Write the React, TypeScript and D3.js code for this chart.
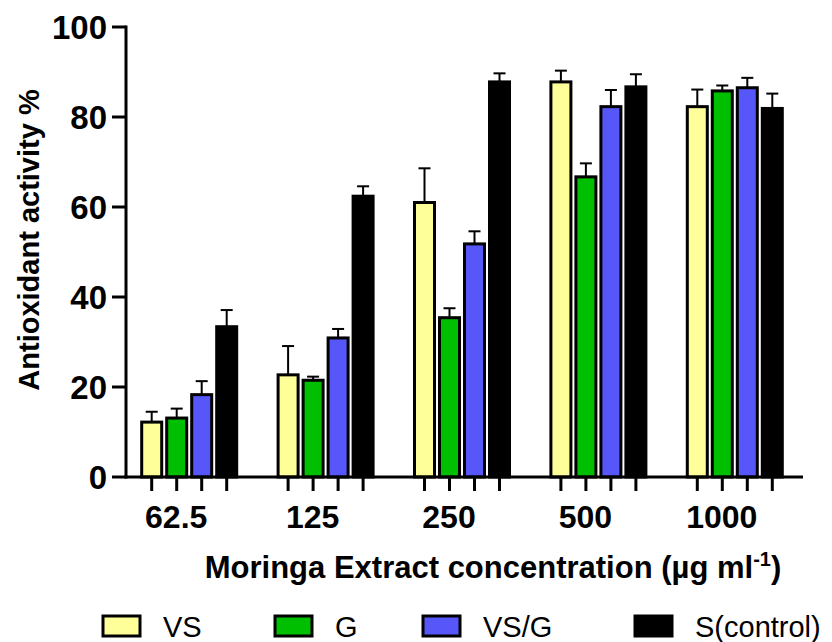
import React from "react";
import * as d3 from "d3";

const categories = ["62.5", "125", "250", "500", "1000"];
const seriesNames = ["VS", "G", "VS/G", "S(control)"];
const seriesColors = ["#FFFF99", "#00BF00", "#5757F9", "#000000"];
const vsValues = [12.2, 22.7, 61.0, 87.8, 82.3];
const vsErr = [2.3, 6.4, 7.6, 2.5, 3.8];
const gValues = [13.1, 21.5, 35.4, 66.7, 85.8];
const gErr = [2.1, 0.8, 2.1, 3.0, 1.2];
const vsgValues = [18.3, 30.9, 51.8, 82.3, 86.5];
const vsgErr = [3.0, 2.0, 2.8, 3.7, 2.2];
const sValues = [33.4, 62.4, 87.8, 86.7, 81.9];
const sErr = [3.7, 2.2, 1.9, 2.8, 3.3];
const yTicks = [0, 20, 40, 60, 80, 100];

const allValues = [vsValues, gValues, vsgValues, sValues];
const allErr = [vsErr, gErr, vsgErr, sErr];

const FONT = "'Liberation Sans', Arial, Helvetica, sans-serif";

export default function App() {
  const W = 832;
  const H = 642;
  const axisX = 126;
  const axisRight = 803;
  const y = d3.scaleLinear().domain([0, 100]).range([477, 27]);
  const x0 = d3.scaleBand<string>().domain(categories).range([121, 803]).paddingInner(0).paddingOuter(0);
  const x1 = d3.scaleBand<string>().domain(seriesNames).range([-50, 50]);
  const barW = 20;
  const capHalf = 6;
  const legendX = [103, 275, 423, 635];

  return (
    <svg width={W} height={H} style={{ position: "absolute", left: 0, top: 0, background: "#fff" }}>
      {/* bars */}
      {categories.map((c, ci) => {
        const gc = (x0(c) as number) + x0.bandwidth() / 2;
        return (
          <g key={c}>
            {seriesNames.map((s, si) => {
              const cx = gc + (x1(s) as number) + x1.bandwidth() / 2;
              const v = allValues[si][ci];
              const e = allErr[si][ci];
              const top = y(v);
              const et = y(v + e);
              return (
                <g key={s}>
                  <line x1={cx} x2={cx} y1={top} y2={et} stroke="#000" strokeWidth={2} />
                  <line x1={cx - capHalf} x2={cx + capHalf} y1={et} y2={et} stroke="#000" strokeWidth={2} />
                  <rect
                    x={cx - barW / 2}
                    y={top}
                    width={barW}
                    height={y(0) - top}
                    fill={seriesColors[si]}
                    stroke="#000"
                    strokeWidth={3}
                  />
                </g>
              );
            })}
          </g>
        );
      })}

      {/* y axis */}
      <line x1={axisX} x2={axisX} y1={y(100) - 1.5} y2={y(0) + 1.5} stroke="#000" strokeWidth={3} />
      {yTicks.map((t) => (
        <g key={t}>
          <line x1={axisX - 14} x2={axisX} y1={y(t)} y2={y(t)} stroke="#000" strokeWidth={3} />
          <text
            x={axisX - 19}
            y={y(t)}
            dy="0.36em"
            textAnchor="end"
            fontFamily={FONT}
            fontWeight="bold"
            fontSize={33}
            fill="#000"
          >
            {t}
          </text>
        </g>
      ))}

      {/* x axis */}
      <line x1={axisX - 1.5} x2={axisRight} y1={y(0)} y2={y(0)} stroke="#000" strokeWidth={3} />
      {categories.map((c) => {
        const gc = (x0(c) as number) + x0.bandwidth() / 2;
        return (
          <g key={c}>
            {seriesNames.map((s) => {
              const cx = gc + (x1(s) as number) + x1.bandwidth() / 2;
              return <line key={s} x1={cx} x2={cx} y1={y(0)} y2={y(0) + 14} stroke="#000" strokeWidth={3} />;
            })}
            <text
              x={gc - 13}
              y={528}
              textAnchor="middle"
              fontFamily={FONT}
              fontWeight="bold"
              fontSize={32}
              fill="#000"
            >
              {c}
            </text>
          </g>
        );
      })}

      {/* axis titles */}
      <text
        transform={`translate(39, 240) rotate(-90)`}
        textAnchor="middle"
        fontFamily={FONT}
        fontWeight="bold"
        fontSize={29}
        fill="#000"
      >
        Antioxidant activity %
      </text>
      <text x={493} y={578} textAnchor="middle" fontFamily={FONT} fontWeight="bold" fontSize={31} fill="#000">
        Moringa Extract concentration (µg ml
        <tspan dy={-12} fontSize={20}>-1</tspan>
        <tspan dy={12}>)</tspan>
      </text>

      {/* legend */}
      {seriesNames.map((s, si) => {
        const lx = legendX[si];
        return (
          <g key={s}>
            <rect x={lx} y={616} width={37} height={20} fill={seriesColors[si]} stroke="#000" strokeWidth={3} />
            <text x={lx + 60} y={637} fontFamily={FONT} fontSize={29} fill="#000">
              {s}
            </text>
          </g>
        );
      })}
    </svg>
  );
}
